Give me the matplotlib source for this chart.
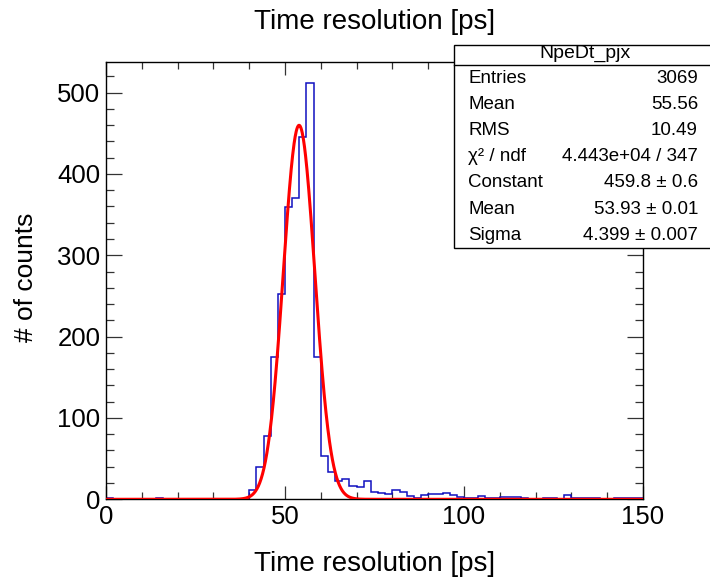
import numpy as np
import matplotlib
matplotlib.use("Agg")
import matplotlib.pyplot as plt
from matplotlib.patches import Rectangle
from matplotlib.lines import Line2D
from matplotlib.ticker import MultipleLocator

plt.rcParams['font.family'] = ['Liberation Sans', 'DejaVu Sans']

# histogram: 2 ps bins from 0 to 150
edges = np.arange(0, 152, 2)
counts = [1, 0, 0, 0, 0, 0, 0, 1, 0, 0,
          0, 0, 0, 0, 0, 0, 0, 0, 0, 0,
          12, 40, 78, 175, 253, 359, 370, 445, 512, 175,
          53, 33, 22, 25, 16, 15, 22, 9, 8, 7,
          12, 9, 4, 2, 5, 7, 6, 8, 5, 3,
          1, 2, 4, 1, 1, 3, 3, 3, 1, 0,
          0, 1, 2, 0, 5, 1, 2, 1, 1, 0,
          0, 2, 1, 2, 1]

# gaussian fit result
fit_const = 459.8
fit_mean = 53.93
fit_sigma = 4.399

stat_title = "NpeDt_pjx"
stat_names = ["Entries", "Mean", "RMS", "\u03c7\u00b2 / ndf", "Constant", "Mean", "Sigma"]
stat_values = ["3069", "55.56", "10.49", "4.443e+04 / 347",
               "459.8 \u00b1 0.6", "53.93 \u00b1 0.01", "4.399 \u00b1 0.007"]

W, H = 710, 580
fig = plt.figure(figsize=(W / 100, H / 100), dpi=100)

def fx(x):
    return x / W

def fy(y):
    return 1 - y / H

ax = fig.add_axes([fx(106), fy(499.3), fx(643) - fx(106), fy(61.7) - fy(499.3)])

ax.stairs(counts, edges, color='#1010c0', lw=1.1, zorder=2)
xs = np.linspace(0, 150, 1500)
ax.plot(xs, fit_const * np.exp(-0.5 * ((xs - fit_mean) / fit_sigma) ** 2),
        color='#ff0000', lw=2.2, zorder=3)

ax.set_xlim(0, 150)
ax.set_ylim(0, 538)
ax.xaxis.set_major_locator(MultipleLocator(50))
ax.xaxis.set_minor_locator(MultipleLocator(10))
ax.yaxis.set_major_locator(MultipleLocator(100))
ax.yaxis.set_minor_locator(MultipleLocator(20))

ax.tick_params(which='both', direction='in', top=True, right=True,
               labelsize=18.5, width=0.9, color='#333333')
ax.tick_params(axis='x', which='major', length=9.4, pad=4)
ax.tick_params(axis='x', which='minor', length=4.7)
ax.tick_params(axis='y', which='major', length=11.6, pad=4)
ax.tick_params(axis='y', which='minor', length=5.8)
for s in ax.spines.values():
    s.set_linewidth(1.0)

fig.text(fx(374.5), fy(22), "Time resolution [ps]", ha='center', va='center', fontsize=20)
fig.text(fx(374.5), fy(564), "Time resolution [ps]", ha='center', va='center', fontsize=20)
fig.text(fx(26), fy(277), "# of counts", ha='center', va='center', fontsize=19, rotation=90)

# stat box
box_l, box_t, box_b, box_r = 454, 45, 248.3, 720
fig.add_artist(Rectangle((fx(box_l), fy(box_b)), fx(box_r) - fx(box_l), fy(box_t) - fy(box_b),
                         transform=fig.transFigure, facecolor='white', edgecolor='black',
                         lw=1.0, zorder=5, clip_on=False))
fig.add_artist(Line2D([fx(box_l), fx(box_r)], [fy(65), fy(65)], transform=fig.transFigure,
                      color='black', lw=1.0, zorder=6))
fig.text(fx(585), fy(53.5), stat_title, ha='center', va='center', fontsize=14, zorder=7)
row_h = (box_b - 65) / len(stat_names)
for i, (name, val) in enumerate(zip(stat_names, stat_values)):
    y = 65 + row_h * (i + 0.5)
    fig.text(fx(468), fy(y), name, ha='left', va='center', fontsize=13.5, zorder=7)
    fig.text(fx(698), fy(y), val, ha='right', va='center', fontsize=13.5, zorder=7)

fig.savefig("out.png", dpi=100)
